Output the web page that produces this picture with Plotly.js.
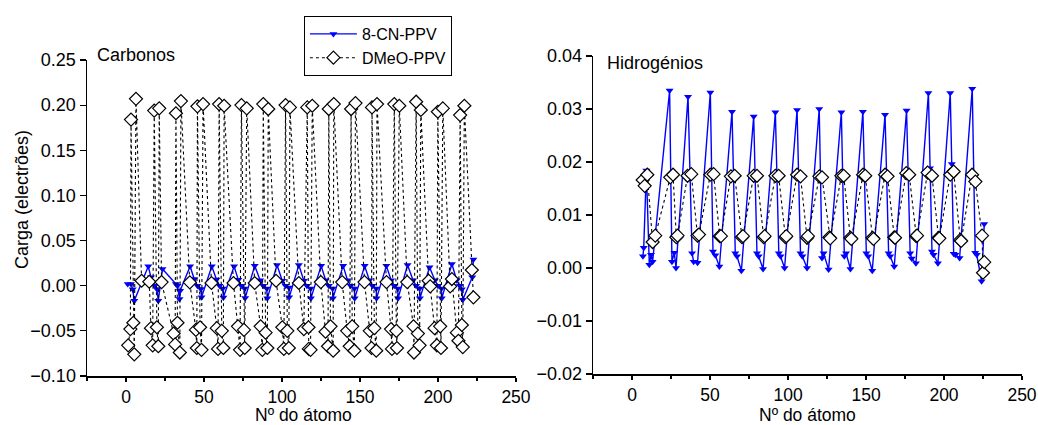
<!DOCTYPE html>
<html>
<head>
<meta charset="utf-8">
<script src="https://cdn.plot.ly/plotly-3.0.1.min.js"></script>
<style>html,body{margin:0;padding:0;background:#fff;}#chart{width:1038px;height:425px;}</style>
</head>
<body>
<div id="chart"></div>
<script>
// ---------- Carbon charges (left panel) ----------
const cnC_x = [1.1,3.2,4.3,5.3,14.3,16.0,18.5,19.8,20.7,23.4,32.0,33.0,34.3,34.7,41.1,43.7,45.8,48.0,48.4,55.0,58.0,60.0,62.0,62.4,69.3,72.0,74.0,76.0,76.4,82.5,86.0,88.0,90.2,90.6,96.8,100.2,102.3,104.4,104.6,110.8,114.0,116.0,118.3,118.5,125.1,128.0,130.0,132.4,132.6,139.2,142.0,144.0,146.4,146.6,153.0,156.0,158.0,160.4,160.6,166.9,170.0,172.0,174.2,174.4,180.5,184.0,186.0,188.2,188.4,194.6,198.0,200.0,202.2,202.4,208.9,212.0,214.0,215.3,215.9,222.0,222.7];
const cnC_y = [0.002,0.002,-0.004,-0.0166,0.0215,0.0093,0.0,-0.0037,-0.0166,0.0185,0.002,0.0,-0.0147,-0.0055,0.0215,0.0074,0.0,-0.0037,-0.0129,0.0215,0.007,0.0,-0.003,-0.013,0.0215,0.0065,0.0,-0.003,-0.0135,0.022,0.006,0.0,-0.003,-0.014,0.0229,0.0055,0.0,-0.002,-0.0129,0.0229,0.0055,0.0,-0.003,-0.014,0.022,0.006,0.0,-0.003,-0.014,0.022,0.006,0.0,-0.003,-0.014,0.022,0.006,0.0,-0.003,-0.014,0.022,0.006,0.0,-0.003,-0.014,0.0229,0.006,0.0,-0.003,-0.014,0.0204,0.006,0.0,-0.003,-0.014,0.024,0.006,0.0,-0.004,-0.0155,0.0093,0.029];

const dmC_x = [1.4,2.8,3.2,4.7,5.3,6.4,10.0,14.9,
  16.0,17.1,18.1,19.8,20.7,21.3,22.8,
  30.5,31.5,32.0,33.0,34.5,35.2,40.9,
  44.8,45.4,45.8,47.5,48.4,49.4,54.8,
  58.2,59.0,59.7,61.4,62.4,62.9,68.9,
  71.8,73.1,74.0,75.6,76.1,77.4,82.5,
  86.3,87.4,88.0,89.5,90.6,91.2,96.2,
  100.2,101.2,102.3,103.4,104.4,105.1,110.8,
  114.0,116.2,117.0,117.2,118.3,119.4,124.9,
  127.9,129.5,130.0,131.1,132.8,133.2,138.6,
  141.8,143.4,144.3,145.0,146.4,147.1,152.9,
  156.3,157.4,157.7,159.2,160.4,160.9,167.0,
  169.9,170.5,172.0,173.3,173.7,175.2,180.3,
  184.3,184.6,186.0,187.1,188.2,189.0,194.0,195.0,
  197.8,199.3,199.9,201.4,201.9,203.1,207.8,208.9,
  212.1,213.1,214.2,215.3,215.9,216.9,221.7,222.7];
const dmC_y = [-0.066,-0.048,0.184,-0.041,-0.076,0.207,0.0055,0.0044,
  -0.047,-0.066,0.194,-0.046,-0.067,0.1965,0.004,
  -0.053,-0.065,0.191,-0.041,-0.074,0.2045,0.0037,
  -0.049,-0.069,0.1987,-0.046,-0.071,0.2012,0.003,
  -0.047,-0.070,0.2012,-0.050,-0.069,0.1993,0.003,
  -0.045,-0.071,0.2001,-0.049,-0.069,0.1965,0.003,
  -0.045,-0.071,0.2012,-0.052,-0.069,0.1957,0.0055,
  -0.046,-0.070,0.2001,-0.050,-0.069,0.1975,0.003,
  -0.048,0.1975,-0.046,-0.070,-0.071,0.1993,0.004,
  -0.051,-0.067,0.1957,-0.045,-0.072,0.2012,0.004,
  -0.050,-0.067,0.1957,-0.045,-0.072,0.2023,0.004,
  -0.050,-0.069,0.1975,-0.047,-0.072,0.2012,0.004,
  -0.048,-0.070,0.2012,-0.050,-0.069,0.1993,0.004,
  -0.045,-0.074,0.2038,-0.053,-0.066,0.1946,0.0055,-0.0007,
  -0.047,-0.066,0.1927,-0.045,-0.069,0.1964,-0.0007,0.0074,
  -0.052,-0.061,0.189,-0.0435,-0.068,0.1993,0.0174,-0.0129];

// ---------- Hydrogen charges (right panel) ----------
const cnH_x = [7.0,7.5,9.2,11.1,12.2,13.2,
  24.1,25.6,27.1,28.2,
  35.9,38.5,39.5,42.0,
  50.2,51.1,51.9,53.4,56.0,
  64.1,66.2,67.3,70.1,
  78.0,80.1,81.2,84.0,
  91.9,94.1,95.2,97.8,
  105.8,108.0,109.2,112.2,
  120.0,121.8,122.8,126.0,
  134.2,136.1,137.2,140.0,
  148.0,150.2,151.4,154.0,
  162.2,164.5,165.5,168.1,
  176.0,178.3,179.3,182.0,
  190.0,191.0,192.3,193.3,196.1,
  204.0,205.0,206.2,207.3,210.0,
  218.1,220.0,221.0,224.1,225.8];
const cnH_y = [0.0022,0.0038,0.0184,0.0006,0.0025,0.0012,
  0.0335,0.0012,0.0029,0.0,
  0.0323,0.0028,0.0012,0.001,
  0.0331,0.0181,0.0031,0.0024,0.0003,
  0.0295,0.0028,0.0022,-0.0005,
  0.0286,0.0028,0.0022,-0.0002,
  0.0294,0.0028,0.0022,0.0,
  0.0298,0.0028,0.0022,0.0,
  0.030,0.0019,0.0028,-0.0003,
  0.0294,0.0022,0.0028,-0.0002,
  0.0295,0.0028,0.0022,-0.0005,
  0.0289,0.0028,0.0022,0.0003,
  0.0297,0.0028,0.0018,0.0009,
  0.0330,0.0188,0.0031,0.0025,0.0009,
  0.0330,0.0196,0.0027,0.0025,0.0019,
  0.0338,0.0029,0.0025,-0.0025,0.0083];

const dmH_x = [6.8,8.1,9.8,13.2,14.9,
  24.5,26.3,28.4,29.2,
  35.6,38.0,42.0,42.9,
  50.2,52.3,56.2,57.0,
  63.4,65.8,70.5,71.1,
  78.0,80.1,84.4,85.0,
  91.9,94.0,98.3,98.9,
  105.8,108.0,112.2,112.8,
  120.1,121.8,126.5,127.0,
  134.2,135.7,140.0,140.6,
  148.1,149.5,154.2,154.8,
  162.2,163.8,168.1,168.6,
  175.8,177.7,182.2,182.7,
  189.5,192.3,196.5,197.0,
  204.0,206.2,210.4,211.0,
  218.0,220.1,224.4,225.0,225.8];
const dmH_y = [0.0166,0.0155,0.0176,0.0049,0.0061,
  0.0171,0.0176,0.0058,0.0061,
  0.0174,0.0177,0.0061,0.0063,
  0.0176,0.0177,0.006,0.006,
  0.0173,0.0174,0.0058,0.006,
  0.0174,0.0174,0.0058,0.006,
  0.0174,0.0174,0.0058,0.006,
  0.0176,0.0173,0.0057,0.006,
  0.0173,0.0171,0.0058,0.0056,
  0.0174,0.0174,0.0057,0.0055,
  0.0176,0.0174,0.0057,0.0055,
  0.0176,0.0173,0.0058,0.0057,
  0.0179,0.0176,0.006,0.0061,
  0.018,0.0174,0.0057,0.0056,
  0.0176,0.0182,0.0053,0.0051,
  0.0176,0.0163,0.0061,-0.0009,0.0011];

const seriesNames = ['8-CN-PPV', 'DMeO-PPV'];
const panelLabels = ['Carbonos', 'Hidrogénios'];
const xTitle = 'Nº do átomo';
const yTitle = 'Carga (electrões)';

// ---------- styles ----------
const blueStyle = {
  mode: 'lines+markers',
  line: {color: '#0000ff', width: 1.4},
  marker: {symbol: 'triangle-down', size: 7, color: '#0000ff', line: {width: 0}}
};
const blackStyle = {
  mode: 'lines+markers',
  line: {color: '#000000', width: 1.1, dash: 'dot'},
  marker: {symbol: 'diamond', size: 10, color: '#ffffff', line: {color: '#000000', width: 1.2}}
};

const traces = [
  Object.assign({x: cnC_x, y: cnC_y, name: seriesNames[0], xaxis: 'x', yaxis: 'y', legendgroup: 'a'}, blueStyle),
  Object.assign({x: dmC_x, y: dmC_y, name: seriesNames[1], xaxis: 'x', yaxis: 'y', legendgroup: 'b'}, blackStyle),
  Object.assign({x: cnH_x, y: cnH_y, name: seriesNames[0], xaxis: 'x2', yaxis: 'y2', showlegend: false}, blueStyle),
  Object.assign({x: dmH_x, y: dmH_y, name: seriesNames[1], xaxis: 'x2', yaxis: 'y2', showlegend: false}, blackStyle)
];

const font = 'Liberation Sans, Arial, Helvetica, sans-serif';
function xAx(domain, anchor) {
  return {
    domain: domain, anchor: anchor, range: [-25, 250], tick0: 0, dtick: 50,
    ticks: 'outside', ticklen: 4, tickwidth: 1.2, tickcolor: '#000',
    minor: {ticks: 'outside', ticklen: 3, dtick: 25, tick0: 0, tickwidth: 1.2, tickcolor: '#000', showgrid: false},
    showgrid: false, zeroline: false, showline: true, linecolor: '#000', linewidth: 1.5,
    tickfont: {size: 17.5}, fixedrange: true
  };
}
function yAx(domain, anchor, range, dtick) {
  return {
    domain: domain, anchor: anchor, range: range, dtick: dtick, tick0: 0, tickformat: '.2f',
    ticks: 'outside', ticklen: 6, tickwidth: 1.2, tickcolor: '#000',
    showgrid: false, zeroline: false, showline: true, linecolor: '#000', linewidth: 1.5,
    tickfont: {size: 18}, fixedrange: true
  };
}

const layout = {
  width: 1038, height: 425,
  margin: {l: 87, r: 16, t: 56, b: 49, pad: 0},
  paper_bgcolor: '#fff', plot_bgcolor: '#fff',
  font: {family: font, size: 17, color: '#000'},
  showlegend: true,
  legend: {
    x: 0.232, y: 1.125, xanchor: 'left', yanchor: 'top',
    bordercolor: '#000', borderwidth: 1, bgcolor: '#fff',
    font: {size: 16}, itemwidth: 47, tracegroupgap: 0
  },
  xaxis: xAx([0, 0.4588], 'y'),
  yaxis: yAx([0, 0.9875], 'x', [-0.10, 0.25], 0.05),
  xaxis2: xAx([0.5412, 1], 'y2'),
  yaxis2: yAx([0.00625, 1], 'x2', [-0.02, 0.04], 0.01),
  annotations: [
    {text: panelLabels[0], xref: 'paper', yref: 'paper', x: 0.0086, y: 1.003, xanchor: 'left', yanchor: 'middle', showarrow: false, font: {size: 18}},
    {text: panelLabels[1], xref: 'paper', yref: 'paper', x: 0.554, y: 0.978, xanchor: 'left', yanchor: 'middle', showarrow: false, font: {size: 18}},
    {text: xTitle, xref: 'paper', yref: 'paper', x: 0.232, y: -0.122, xanchor: 'center', yanchor: 'middle', showarrow: false, borderpad: 0, font: {size: 17.5}},
    {text: xTitle, xref: 'paper', yref: 'paper', x: 0.771, y: -0.122, xanchor: 'center', yanchor: 'middle', showarrow: false, borderpad: 0, font: {size: 17.5}},
    {text: yTitle, xref: 'paper', yref: 'paper', x: -0.0695, y: 0.55, xanchor: 'center', yanchor: 'middle', textangle: -90, showarrow: false, font: {size: 18}}
  ]
};

Plotly.newPlot('chart', traces, layout, {staticPlot: true, displayModeBar: false});
</script>
</body>
</html>
